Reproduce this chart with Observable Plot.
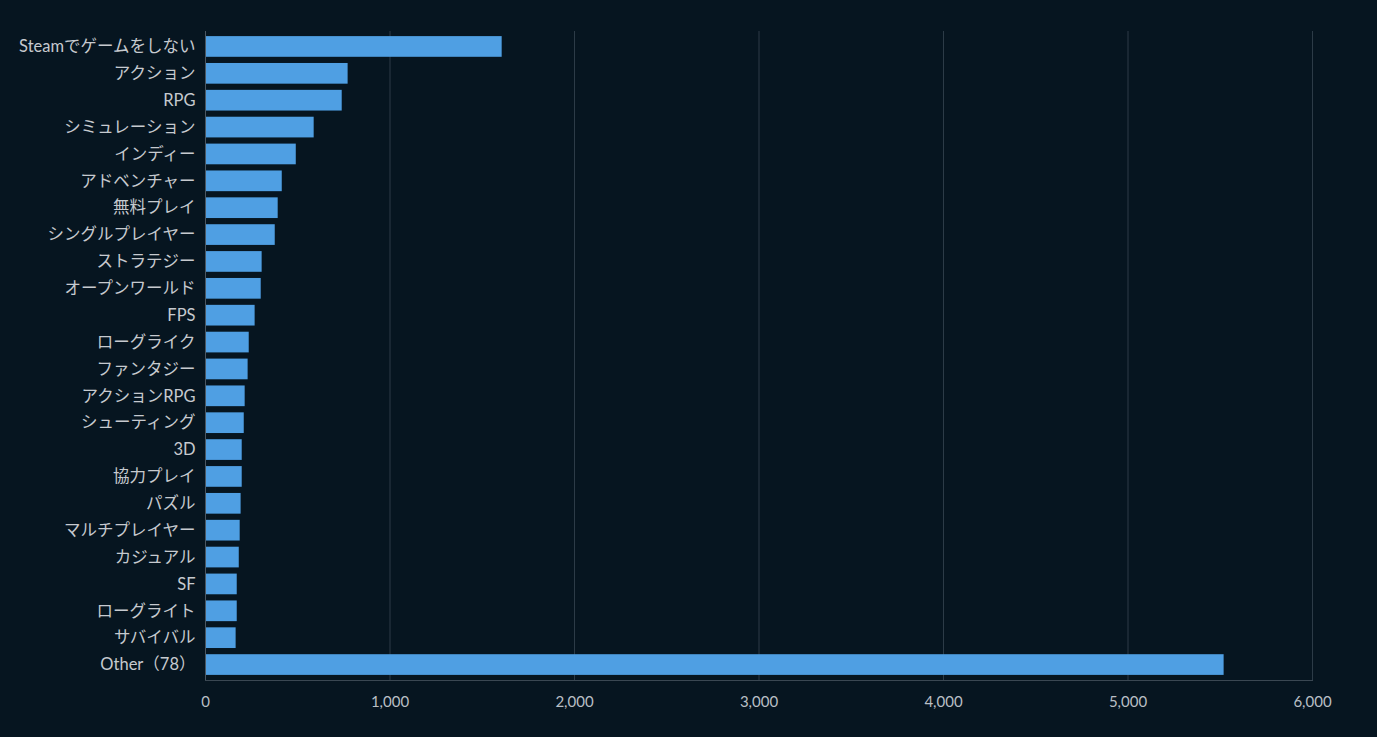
<!DOCTYPE html>
<html>
<head>
<meta charset="utf-8">
<script src="https://cdn.jsdelivr.net/npm/d3@7"></script>
<script src="https://cdn.jsdelivr.net/npm/@observablehq/plot@0.6"></script>
<style>
  html, body { margin: 0; padding: 0; background: #061520; }
  #chart svg { display: block; }
</style>
</head>
<body>
<div id="chart"></div>
<script>
const categories = [
  "Steamでゲームをしない", "アクション", "RPG", "シミュレーション", "インディー",
  "アドベンチャー", "無料プレイ", "シングルプレイヤー", "ストラテジー", "オープンワールド",
  "FPS", "ローグライク", "ファンタジー", "アクションRPG", "シューティング",
  "3D", "協力プレイ", "パズル", "マルチプレイヤー", "カジュアル",
  "SF", "ローグライト", "サバイバル", "Other（78）"
];
const values = [
  1608, 773, 741, 589, 492,
  416, 394, 378, 307, 302,
  269, 237, 231, 215, 210,
  199, 199, 193, 188, 183,
  172, 172, 166, 5521
];
const xTicks = [0, 1000, 2000, 3000, 4000, 5000, 6000];

const data = categories.map((c, i) => ({category: c, value: values[i]}));

const chart = Plot.plot({
  width: 1377,
  height: 737,
  marginTop: 31,
  marginBottom: 57,
  marginLeft: 205,
  marginRight: 65,
  style: {
    background: "#061520",
    color: "#c3c8cd",
    fontFamily: "Lato, 'Noto Sans CJK JP', sans-serif",
    fontSize: "15px"
  },
  x: {
    domain: [0, 6000],
    label: null
  },
  y: {
    domain: categories,
    label: null,
    round: false,
    paddingInner: 0.23,
    paddingOuter: 0.19
  },
  marks: [
    Plot.gridX(xTicks, {stroke: "#2c3b47", strokeOpacity: 1}),
    Plot.barX(data, {x: "value", y: "category", fill: "#4f9fe3"}),
    Plot.axisX(xTicks, {tickSize: 0, tickPadding: 16, tickFormat: d3.format(","), fontSize: 15, fill: "#b9bfc5", label: null}),
    Plot.axisY({tickSize: 0, tickPadding: 10, fontSize: 16.5, fill: "#c6cacf", label: null}),
    Plot.ruleX([0], {stroke: "#4a5661"}),
    Plot.frame({anchor: "bottom", stroke: "#3a4752"})
  ]
});
document.getElementById("chart").appendChild(chart);
</script>
</body>
</html>
